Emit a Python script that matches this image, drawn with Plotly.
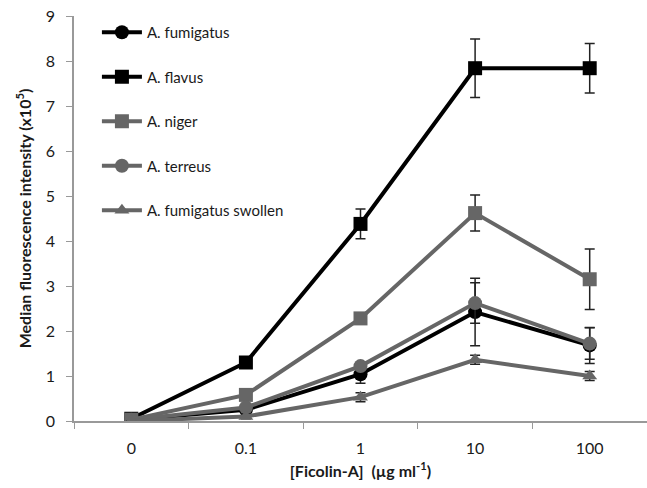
import plotly.graph_objects as go

categories = ["0", "0.1", "1", "10", "100"]

series_names = ["A. fumigatus", "A. flavus", "A. niger", "A. terreus", "A. fumigatus swollen"]
fumigatus = [0.03, 0.25, 1.04, 2.42, 1.68]
fumigatus_err = [0.0, 0.05, 0.2, 0.75, 0.4]
flavus = [0.05, 1.3, 4.38, 7.84, 7.84]
flavus_err = [0.0, 0.0, 0.33, 0.65, 0.55]
niger = [0.03, 0.58, 2.28, 4.62, 3.15]
niger_err = [0.0, 0.0, 0.0, 0.4, 0.67]
terreus = [0.03, 0.3, 1.22, 2.62, 1.72]
terreus_err = [0.0, 0.0, 0.0, 0.45, 0.35]
swollen = [0.0, 0.1, 0.53, 1.36, 1.0]
swollen_err = [0.0, 0.05, 0.1, 0.1, 0.1]

y_ticks = list(range(0, 10))

BLACK = "#000000"
GRAY = "#666666"

specs = [
    (series_names[0], fumigatus, fumigatus_err, BLACK, "circle"),
    (series_names[1], flavus, flavus_err, BLACK, "square"),
    (series_names[2], niger, niger_err, GRAY, "square"),
    (series_names[3], terreus, terreus_err, GRAY, "circle"),
    (series_names[4], swollen, swollen_err, GRAY, "triangle-up"),
]

fig = go.Figure()
for i, (name, vals, errs, col, sym) in enumerate(specs):
    fig.add_trace(go.Scatter(
        x=categories, y=vals, name=name, mode="lines+markers",
        legendgroup=f"g{i}", legendrank=i,
        line=dict(color=col, width=4),
        marker=dict(symbol=sym, size=14 if sym != "triangle-up" else 13, color=col),
        error_y=dict(type="data", array=errs, visible=True, color="#222222", thickness=1.5, width=5),
    ))

fig.update_layout(
    width=647, height=488,
    margin=dict(l=74, r=0, t=16, b=67),
    paper_bgcolor="white", plot_bgcolor="white",
    font=dict(family="Lato, Open Sans, sans-serif", color="#1a1a1a"),
    showlegend=True,
    legend=dict(
        x=0.04, y=1.0, xanchor="left", yanchor="top",
        font=dict(size=15, color="#1a1a1a"),
        tracegroupgap=22, bgcolor="rgba(0,0,0,0)",
        itemwidth=40,
    ),
    xaxis=dict(
        type="category", range=[-0.5, 4.5],
        showline=True, linecolor="#999999", linewidth=1.5,
        ticks="outside", tickcolor="#999999", ticklen=6,
        tickson="boundaries", showgrid=False, zeroline=False,
        ticklabelstandoff=12,
        tickfont=dict(size=16, color="#1a1a1a"),
        title=dict(text="<b>[Ficolin-A]  (µg ml<sup>-1</sup>)</b>", font=dict(size=16), standoff=10),
    ),
    yaxis=dict(
        range=[0, 9], tickvals=y_ticks,
        showline=True, linecolor="#999999", linewidth=1.5,
        ticks="outside", tickcolor="#999999", ticklen=6,
        showgrid=False, zeroline=False,
        ticklabelstandoff=8,
        tickfont=dict(size=16, color="#1a1a1a"),
        title=dict(text="<b>Median fluorescence intensity (x10<sup>5</sup>)</b>", font=dict(size=16), standoff=10),
    ),
)

fig.write_html("out.html")
